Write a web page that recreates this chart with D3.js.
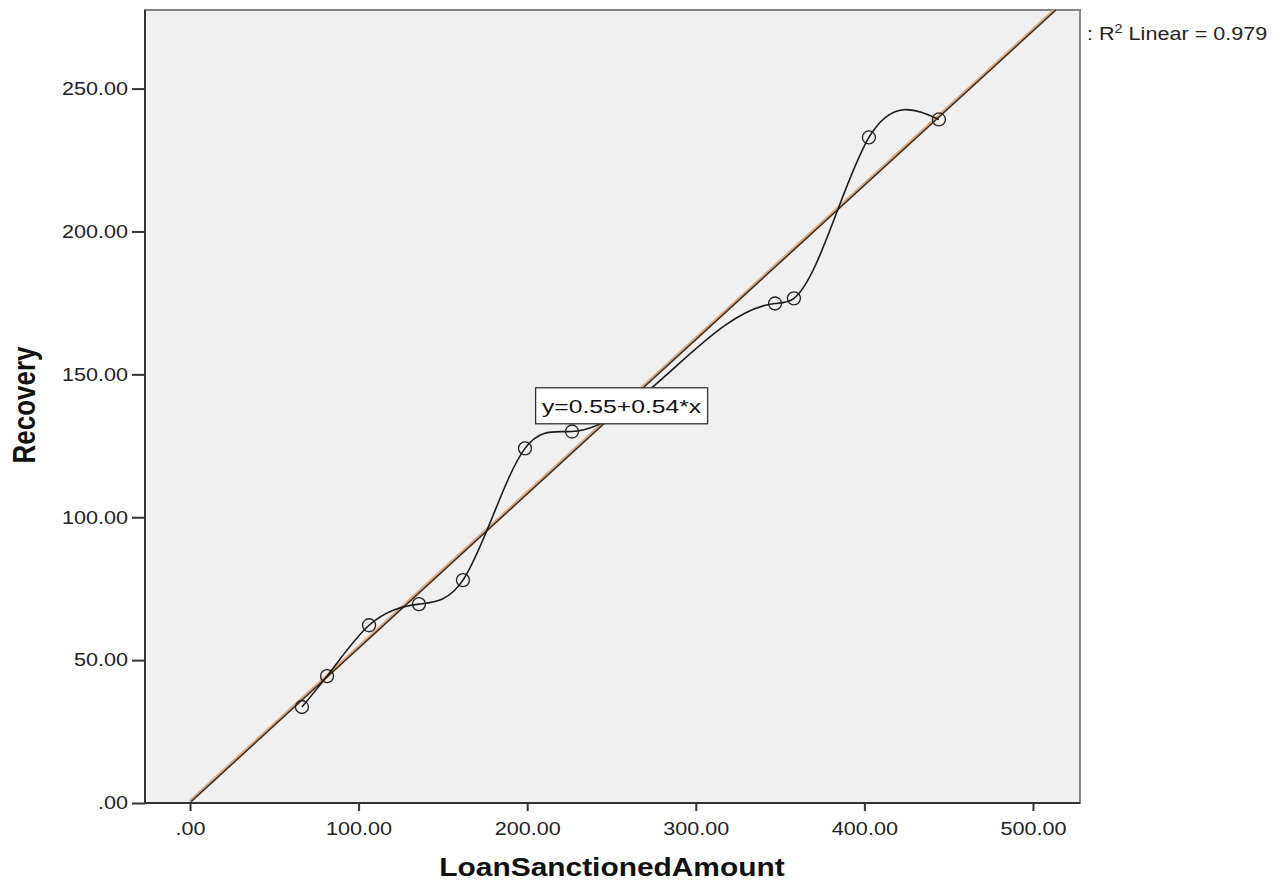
<!DOCTYPE html>
<html>
<head>
<meta charset="utf-8">
<script src="https://cdn.jsdelivr.net/npm/d3@7"></script>
<style>
  body { margin: 0; background: #fff; }
  svg { display: block; font-family: "Liberation Sans", Arial, sans-serif; }
</style>
</head>
<body>
<svg width="1281" height="884"></svg>
<script>
// data
const loanAmount = [66.4, 81.3, 106.2, 135.8, 161.9, 198.7, 226.6, 347.0, 358.2, 402.7, 444.2];
const recovery   = [33.6, 44.4, 62.2, 69.6, 78.0, 124.1, 130.0, 174.8, 176.6, 232.9, 239.2];
const xTicks = [0, 100, 200, 300, 400, 500];
const yTicks = [0, 50, 100, 150, 200, 250];
const fitIntercept = 0.55;
const fitSlope = 0.54;
const rSquared = "0.979";

const svg = d3.select("svg");
const pLeft = 145, pTop = 10, pRight = 1080, pBottom = 803;
const stretch = 1.2; // text in the picture is drawn wider than normal

const x = d3.scaleLinear().domain([-26.7, 527.9]).range([pLeft, pRight]);
const y = d3.scaleLinear().domain([0, 277.5]).range([pBottom, pTop]);

const fmt = v => d3.format(".2f")(v).replace(/^0\./, ".");

// natural cubic spline of y over x (like the SPSS interpolation line)
function curveSplineX(context) {
    let xs, ys;
    return {
        areaStart() {}, areaEnd() {},
        lineStart() { xs = []; ys = []; },
        point(px, py) { xs.push(+px); ys.push(+py); },
        lineEnd() {
            const n = xs.length;
            if (!n) return;
            context.moveTo(xs[0], ys[0]);
            if (n === 2) { context.lineTo(xs[1], ys[1]); return; }
            const h = d3.range(n - 1).map(i => xs[i + 1] - xs[i]);
            const a = [], b = [], c = [], r = [];
            for (let i = 1; i < n - 1; i++) {
                a.push(h[i - 1]);
                b.push(2 * (h[i - 1] + h[i]));
                c.push(h[i]);
                r.push(6 * ((ys[i + 1] - ys[i]) / h[i] - (ys[i] - ys[i - 1]) / h[i - 1]));
            }
            const m = a.length;
            for (let i = 1; i < m; i++) {
                const w = a[i] / b[i - 1];
                b[i] -= w * c[i - 1];
                r[i] -= w * r[i - 1];
            }
            const M = new Array(n).fill(0);
            for (let i = m - 1; i >= 0; i--) {
                M[i + 1] = (r[i] - c[i] * M[i + 2]) / b[i];
            }
            for (let i = 0; i < n - 1; i++) {
                const hi = h[i];
                const s = (ys[i + 1] - ys[i]) / hi;
                const d0 = s - hi * (2 * M[i] + M[i + 1]) / 6;
                const d1 = s + hi * (M[i] + 2 * M[i + 1]) / 6;
                context.bezierCurveTo(xs[i] + hi / 3, ys[i] + hi / 3 * d0,
                                      xs[i + 1] - hi / 3, ys[i + 1] - hi / 3 * d1,
                                      xs[i + 1], ys[i + 1]);
            }
        }
    };
}

// plot background
svg.append("rect")
    .attr("x", pLeft).attr("y", pTop)
    .attr("width", pRight - pLeft).attr("height", pBottom - pTop)
    .attr("fill", "#f0f0f0")
    .attr("stroke", "#858585")
    .attr("stroke-width", 2);

svg.append("clipPath").attr("id", "plotclip")
    .append("rect")
    .attr("x", pLeft).attr("y", pTop)
    .attr("width", pRight - pLeft).attr("height", pBottom - pTop);

const plot = svg.append("g").attr("clip-path", "url(#plotclip)");

// fit line from x=0 to the top edge
const xEnd = (y.domain()[1] - fitIntercept) / fitSlope + 5;
const fitPts = [0, xEnd].map(v => [v, fitIntercept + fitSlope * v]);
plot.append("path")
    .attr("d", d3.line().x(d => x(d[0])).y(d => y(d[1]))(fitPts))
    .attr("fill", "none")
    .attr("stroke", "#dca77c")
    .attr("stroke-width", 3.5);
plot.append("path")
    .attr("d", d3.line().x(d => x(d[0]) + 1.2).y(d => y(d[1]))(fitPts))
    .attr("fill", "none")
    .attr("stroke", "#2a2520")
    .attr("stroke-width", 1.3);

// interpolation curve through the points
const pts = loanAmount.map((v, i) => [v, recovery[i]]);
plot.append("path")
    .attr("d", d3.line().x(d => x(d[0])).y(d => y(d[1])).curve(curveSplineX)(pts))
    .attr("fill", "none")
    .attr("stroke", "#1a1a1a")
    .attr("stroke-width", 1.6);

plot.selectAll("circle")
    .data(pts)
    .enter().append("circle")
    .attr("cx", d => x(d[0]))
    .attr("cy", d => y(d[1]))
    .attr("r", 6.5)
    .attr("fill", "none")
    .attr("stroke", "#222")
    .attr("stroke-width", 1.3);

// axes
const xAxis = svg.append("g")
    .attr("transform", `translate(0,${pBottom})`)
    .call(d3.axisBottom(x).tickValues(xTicks).tickFormat(fmt).tickSize(8).tickSizeOuter(0));
const yAxis = svg.append("g")
    .attr("transform", `translate(${pLeft},0)`)
    .call(d3.axisLeft(y).tickValues(yTicks).tickFormat(fmt).tickSize(13).tickSizeOuter(0));

[xAxis, yAxis].forEach(ax => {
    ax.select(".domain").remove();
    ax.selectAll("line").attr("stroke", "#333").attr("stroke-width", 2);
    ax.selectAll("text")
        .attr("font-size", 18)
        .attr("fill", "#222")
        .attr("font-family", "Liberation Sans, Arial, sans-serif")
        .attr("transform", `scale(${stretch},1)`);
});
xAxis.selectAll("text").attr("y", 19).attr("dy", "0.71em").attr("x", 0);
yAxis.selectAll("text").attr("x", -17 / stretch);

// axis lines
svg.append("line").attr("x1", pLeft).attr("x2", pLeft).attr("y1", pTop).attr("y2", pBottom + 1)
    .attr("stroke", "#333").attr("stroke-width", 2);
svg.append("line").attr("x1", pLeft - 1).attr("x2", pRight).attr("y1", pBottom).attr("y2", pBottom)
    .attr("stroke", "#333").attr("stroke-width", 2);

// equation label
const eqX = 256, eqY = 139;
const eq = svg.append("g").attr("transform", `translate(${x(eqX)},${y(eqY)})`);
eq.append("rect")
    .attr("x", -86).attr("y", -18).attr("width", 172).attr("height", 36)
    .attr("fill", "#fff").attr("stroke", "#333").attr("stroke-width", 1.3);
eq.append("text")
    .attr("text-anchor", "middle").attr("dy", "0.36em")
    .attr("font-size", 19).attr("fill", "#111")
    .attr("transform", `scale(1.3,1)`)
    .text(`y=${fitIntercept}+${fitSlope}*x`);

// R squared legend
const rt = svg.append("text")
    .attr("transform", `translate(1087,40) scale(${stretch},1)`)
    .attr("font-size", 18).attr("fill", "#222");
rt.append("tspan").text(": R");
rt.append("tspan").attr("dy", -7).attr("font-size", 12).text("2");
rt.append("tspan").attr("dy", 7).text(` Linear = ${rSquared}`);

// axis titles
svg.append("text")
    .attr("transform", `translate(612,876) scale(1.15,1)`)
    .attr("text-anchor", "middle")
    .attr("font-size", 26).attr("font-weight", "bold").attr("fill", "#111")
    .text("LoanSanctionedAmount");

svg.append("text")
    .attr("transform", `translate(35,405) scale(${stretch},1) rotate(-90)`)
    .attr("text-anchor", "middle")
    .attr("font-size", 26).attr("font-weight", "bold").attr("fill", "#111")
    .text("Recovery");
</script>
</body>
</html>
